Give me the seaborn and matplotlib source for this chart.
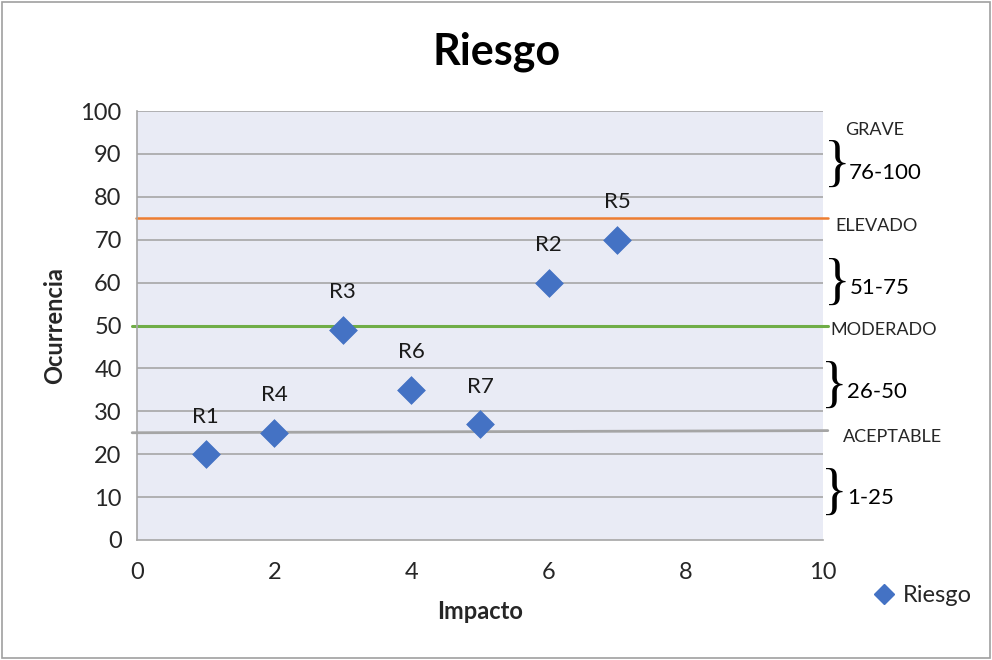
import matplotlib
matplotlib.use("Agg")
import matplotlib.pyplot as plt
import seaborn as sns
import pandas as pd
from matplotlib.patches import Rectangle

# ---- data ----
labels = ["R1", "R4", "R3", "R6", "R7", "R2", "R5"]
impacto = [1, 2, 3, 4, 5, 6, 7]
ocurrencia = [20, 25, 49, 35, 27, 60, 70]

thresholds = [75, 50, 25]
threshold_colors = ["#ED7D31", "#70AD47", "#A5A5A5"]
level_names = ["GRAVE", "ELEVADO", "MODERADO", "ACEPTABLE"]
ranges = ["76-100", "51-75", "26-50", "1-25"]
x_ticks = [0, 2, 4, 6, 8, 10]
y_ticks = list(range(0, 101, 10))

df = pd.DataFrame({"Impacto": impacto, "Ocurrencia": ocurrencia, "label": labels})

sns.set_theme(style="white")
FONT = ["Lato", "DejaVu Sans"]
plt.rcParams["font.family"] = FONT

W, H = 992, 660
fig = plt.figure(figsize=(W / 100, H / 100), dpi=100)

def fx(px):
    return px / W

def fy(py):
    return 1 - py / H

ax = fig.add_axes([fx(137), fy(540), fx(823) - fx(137), fy(111) - fy(540)])
ax.set_facecolor("#E9EBF5")

# grid lines
for yv in y_ticks[1:]:
    ax.axhline(yv, color="#A6A6A6", lw=1.2, zorder=1)

# threshold lines (extend slightly beyond the plot area)
ax.plot([-0.02, 10.07], [thresholds[0], thresholds[0]], color=threshold_colors[0], lw=1.8, clip_on=False, zorder=2)
ax.plot([-0.07, 10.07], [thresholds[1], thresholds[1]], color=threshold_colors[1], lw=2.2, clip_on=False, zorder=2)
ax.plot([-0.07, 10.07], [thresholds[2], thresholds[2] + 0.5], color=threshold_colors[2], lw=2.0, clip_on=False, zorder=2)

sns.scatterplot(data=df, x="Impacto", y="Ocurrencia", ax=ax, marker="D", s=200,
                color="#4472C4", edgecolor="#4472C4", linewidth=0.5, zorder=5,
                label="Riesgo", legend=False)

for _, r in df.iterrows():
    ax.annotate(r["label"], (r["Impacto"], r["Ocurrencia"]), xytext=(0, 27),
                textcoords="offset points", ha="center", va="center", fontsize=16,
                color="#1a1a1a", zorder=6)

ax.set_xlim(0, 10)
ax.set_ylim(0, 100)
ax.set_xticks(x_ticks)
ax.set_yticks(y_ticks)
ax.tick_params(axis="both", labelsize=17, colors="#262626", length=7, width=1.2,
               direction="out", pad=4)
ax.tick_params(axis="x", pad=9)
ax.tick_params(axis="y", color="#A6A6A6")
ax.tick_params(axis="x", color="#A6A6A6")

for s in ["top", "right"]:
    ax.spines[s].set_visible(False)
ax.spines["left"].set_color("#A6A6A6")
ax.spines["left"].set_linewidth(1.2)
ax.spines["bottom"].set_color("#A6A6A6")
ax.spines["bottom"].set_linewidth(1.2)

ax.set_xlabel("Impacto", fontsize=17, fontweight="bold", labelpad=12)
ax.set_ylabel("Ocurrencia", fontsize=17, fontweight="bold", labelpad=10)

fig.text(fx(497), fy(52), "Riesgo", ha="center", va="center", fontsize=31,
         fontweight="bold", color="black")

# right-side annotations
level_pos = [(845, 130), (835, 226), (830, 330), (843, 437)]
range_pos = [(849, 173), (850, 288), (847, 392), (847, 498)]
brace_pos = [(837, 167), (837, 285), (834, 388), (834, 495)]
for name, (px, py) in zip(level_names, level_pos):
    fig.text(fx(px), fy(py), name, ha="left", va="center", fontsize=13, color="#262626")
for rng, (px, py) in zip(ranges, range_pos):
    fig.text(fx(px), fy(py), rng, ha="left", va="center", fontsize=16, color="black")
for px, py in brace_pos:
    fig.text(fx(px), fy(py), "}", ha="center", va="center", fontsize=40,
             family=["Liberation Serif", "DejaVu Serif"], color="black")

# legend
fig.legend(handles=[plt.Line2D([], [], marker="D", ls="", color="#4472C4", markersize=10)],
           labels=["Riesgo"], loc="center left", bbox_to_anchor=(fx(849), fy(596)),
           frameon=False, fontsize=17, handletextpad=0.2, handlelength=1.2)

# chart border
fig.patches.append(Rectangle((fx(2), fy(658)), fx(988), 656 / H, transform=fig.transFigure,
                             fill=False, edgecolor="#A0A0A0", lw=1.2))

fig.savefig("out.png", dpi=100)
